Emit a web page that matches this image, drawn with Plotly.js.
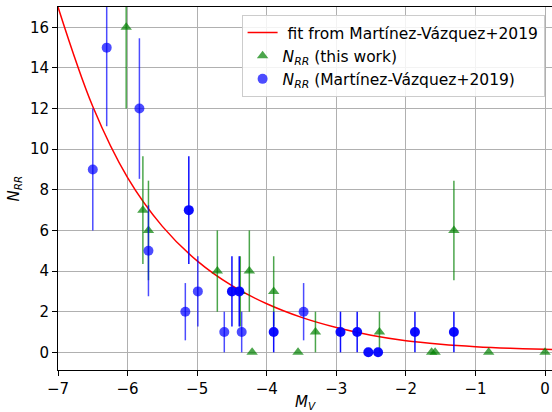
<!DOCTYPE html>
<html>
<head>
<meta charset="utf-8">
<script src="https://cdn.plot.ly/plotly-3.0.1.min.js"></script>
<style>html,body{margin:0;padding:0;background:#fff;}#chart{width:552px;height:412px;}</style>
</head>
<body>
<div id="chart"></div>
<script>
// Fit curve
const fitX = [-7, -6.5, -6, -5.5, -5, -4.5, -4, -3.5, -3, -2.5, -2, -1.5, -1, -0.5, 0, 0.1];
const fitY = [17.0, 12.1, 8.6, 6.2, 4.5, 3.28, 2.39, 1.72, 1.22, 0.84, 0.57, 0.40, 0.28, 0.20, 0.15, 0.145];

// N_RR (this work)
const thisX   = [-6.02, -5.78, -5.70, -4.71, -4.38, -4.25, -4.21, -3.90, -3.55, -3.30, -2.38, -1.63, -1.58, -1.31, -0.81, 0.0];
const thisY   = [16, 7, 6, 4, 3, 4, 0, 3, 0, 1, 1, 0, 0, 6, 0, 0];
const thisErr = [4, 2.65, 2.45, 2, 1.73, 2, 0, 1.73, 0, 1, 1, 0, 0, 2.45, 0, 0];

// N_RR (Martinez-Vazquez+2019), lighter points
const mvX   = [-6.50, -6.30, -5.83, -5.70, -5.17, -4.99, -4.61, -4.36, -3.47];
const mvY   = [9, 15, 12, 5, 2, 3, 1, 1, 2];
const mvErr = [3, 3.87, 3.46, 2.24, 1.41, 1.73, 1, 1, 1.41];

// N_RR (Martinez-Vazquez+2019), darker points
const mv2X   = [-5.12, -4.50, -4.395, -3.90, -2.94, -2.70, -2.54, -2.40, -1.87, -1.31];
const mv2Y   = [7, 3, 3, 1, 1, 1, 0, 0, 1, 1];
const mv2Err = [2.65, 1.73, 1.73, 1, 1, 1, 0, 0, 1, 1];

const font = {family: 'DejaVu Sans, sans-serif', size: 15, color: '#000'};
const legFont = {family: 'DejaVu Sans, sans-serif', size: 15.5, color: '#000'};

const traces = [
  {x: fitX, y: fitY, mode: 'lines', line: {color: 'rgb(255,0,0)', width: 1.5, shape: 'spline'},
   name: ' fit from Martínez-Vázquez+2019', hoverinfo: 'skip'},
  {x: thisX, y: thisY, mode: 'markers', name: '<i>N</i><sub><i>RR</i></sub> (this work)',
   marker: {symbol: 'triangle-up', size: 10, color: 'rgba(0,128,0,0.7)'},
   error_y: {type: 'data', array: thisErr, visible: true, color: 'rgba(0,128,0,0.7)', thickness: 1.5, width: 0}},
  {x: mvX, y: mvY, mode: 'markers', name: '<i>N</i><sub><i>RR</i></sub> (Martínez-Vázquez+2019)',
   marker: {symbol: 'circle', size: 10, color: 'rgba(0,0,255,0.7)'},
   error_y: {type: 'data', array: mvErr, visible: true, color: 'rgba(0,0,255,0.7)', thickness: 1.5, width: 0}},
  {x: mv2X, y: mv2Y, mode: 'markers', showlegend: false,
   marker: {symbol: 'circle', size: 10, color: 'rgba(0,0,255,0.95)'},
   error_y: {type: 'data', array: mv2Err, visible: true, color: 'rgba(0,0,255,0.95)', thickness: 1.5, width: 0}}
];

const axisCommon = {
  showline: true, linecolor: '#000', linewidth: 1, mirror: true,
  ticks: 'outside', ticklen: 5, tickcolor: '#000', tickwidth: 1,
  showgrid: true, gridcolor: '#b0b0b0', gridwidth: 1, zeroline: false,
  tickfont: font
};

const layout = {
  width: 552, height: 412,
  margin: {l: 58, r: 0, t: 7, b: 42},
  paper_bgcolor: '#fff', plot_bgcolor: '#fff',
  font: font,
  xaxis: Object.assign({}, axisCommon, {
    range: [-7, 0.1], tickmode: 'array', tickvals: [-7, -6, -5, -4, -3, -2, -1, 0],
    title: {text: '<i>M</i><sub><i>V</i></sub>', font: font, standoff: 4}
  }),
  yaxis: Object.assign({}, axisCommon, {
    range: [-0.87, 17.0], tickmode: 'array', tickvals: [0, 2, 4, 6, 8, 10, 12, 14, 16],
    title: {text: '<i>N</i><sub><i>RR</i></sub>', font: font, standoff: 6}
  }),
  legend: {
    x: 0.985, xanchor: 'right', y: 0.978, yanchor: 'top',
    bgcolor: 'rgba(255,255,255,0.85)', bordercolor: '#cccccc', borderwidth: 1,
    font: legFont, tracegroupgap: 0
  },
  showlegend: true
};

Plotly.newPlot('chart', traces, layout, {displayModeBar: false, staticPlot: true});
</script>
</body>
</html>
